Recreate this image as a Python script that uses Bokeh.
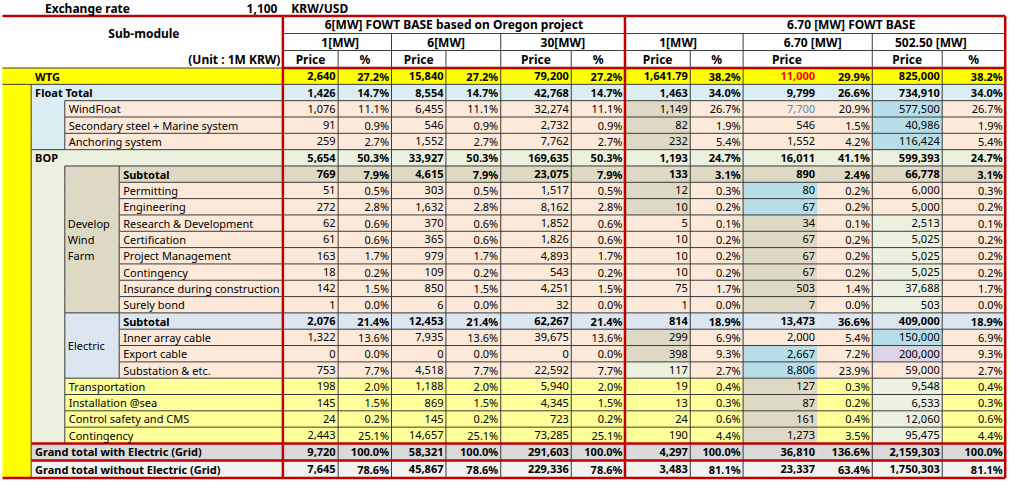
from bokeh.plotting import figure
from bokeh.models import Range1d, ColumnDataSource
from bokeh.embed import file_html
from bokeh.resources import INLINE
from bokeh.core.properties import value

# ---------------- data ----------------
exchange_label = "Exchange rate"
exchange_rate = 1100
exchange_unit = "KRW/USD"
corner_title = "Sub-module"
unit_label = "(Unit : 1M KRW)"

row_labels = ["WTG", "Float Total", "WindFloat", "Secondary steel + Marine system",
              "Anchoring system", "BOP", "Subtotal", "Permitting", "Engineering",
              "Research & Development", "Certification", "Project Management",
              "Contingency", "Insurance during construction", "Surely bond",
              "Subtotal", "Inner array cable", "Export cable", "Substation & etc.",
              "Transportation", "Installation @sea", "Control safety and CMS",
              "Contingency", "Grand total with Electric (Grid)",
              "Grand total without Electric (Grid)"]
develop_label = ["Develop", "Wind", "Farm"]
electric_label = "Electric"

group_titles = ["6[MW] FOWT BASE based on Oregon project", "6.70 [MW] FOWT BASE"]
size_titles = ["1[MW]", "6[MW]", "30[MW]", "1[MW]", "6.70 [MW]", "502.50 [MW]"]
sub_headers = ["Price", "%", "Price", "", "Price", "%",
               "Price", "%", "Price", "", "Price", "%"]

oregon_1mw_price = [2640, 1426, 1076, 91, 259, 5654, 769, 51, 272, 62, 61, 163, 18, 142, 1,
                    2076, 1322, 0, 753, 198, 145, 24, 2443, 9720, 7645]
oregon_1mw_pct = [27.2, 14.7, 11.1, 0.9, 2.7, 50.3, 7.9, 0.5, 2.8, 0.6, 0.6, 1.7, 0.2, 1.5, 0.0,
                  21.4, 13.6, 0.0, 7.7, 2.0, 1.5, 0.2, 25.1, 100.0, 78.6]
oregon_6mw_price = [15840, 8554, 6455, 546, 1552, 33927, 4615, 303, 1632, 370, 365, 979, 109, 850, 6,
                    12453, 7935, 0, 4518, 1188, 869, 145, 14657, 58321, 45867]
oregon_6mw_pct = [27.2, 14.7, 11.1, 0.9, 2.7, 50.3, 7.9, 0.5, 2.8, 0.6, 0.6, 1.7, 0.2, 1.5, 0.0,
                  21.4, 13.6, 0.0, 7.7, 2.0, 1.5, 0.2, 25.1, 100.0, 78.6]
oregon_30mw_price = [79200, 42768, 32274, 2732, 7762, 169635, 23075, 1517, 8162, 1852, 1826, 4893,
                     543, 4251, 32, 62267, 39675, 0, 22592, 5940, 4345, 723, 73285, 291603, 229336]
oregon_30mw_pct = [27.2, 14.7, 11.1, 0.9, 2.7, 50.3, 7.9, 0.5, 2.8, 0.6, 0.6, 1.7, 0.2, 1.5, 0.0,
                   21.4, 13.6, 0.0, 7.7, 2.0, 1.5, 0.2, 25.1, 100.0, 78.6]
fowt_1mw_price = [1641.79, 1463, 1149, 82, 232, 1193, 133, 12, 10, 5, 10, 10, 10, 75, 1,
                  814, 299, 398, 117, 19, 13, 24, 190, 4297, 3483]
fowt_1mw_pct = [38.2, 34.0, 26.7, 1.9, 5.4, 24.7, 3.1, 0.3, 0.2, 0.1, 0.2, 0.2, 0.2, 1.7, 0.0,
                18.9, 6.9, 9.3, 2.7, 0.4, 0.3, 0.6, 4.4, 100.0, 81.1]
fowt_670_price = [11000, 9799, 7700, 546, 1552, 16011, 890, 80, 67, 34, 67, 67, 67, 503, 7,
                  13473, 2000, 2667, 8806, 127, 87, 161, 1273, 36810, 23337]
fowt_670_pct = [29.9, 26.6, 20.9, 1.5, 4.2, 41.1, 2.4, 0.2, 0.2, 0.1, 0.2, 0.2, 0.2, 1.4, 0.0,
                36.6, 5.4, 7.2, 23.9, 0.3, 0.2, 0.4, 3.5, 136.6, 63.4]
fowt_50250_price = [825000, 734910, 577500, 40986, 116424, 599393, 66778, 6000, 5000, 2513, 5025,
                    5025, 5025, 37688, 503, 409000, 150000, 200000, 59000, 9548, 6533, 12060,
                    95475, 2159303, 1750303]
fowt_50250_pct = [38.2, 34.0, 26.7, 1.9, 5.4, 24.7, 3.1, 0.3, 0.2, 0.1, 0.2, 0.2, 0.2, 1.7, 0.0,
                  18.9, 6.9, 9.3, 2.7, 0.4, 0.3, 0.6, 4.4, 100.0, 81.1]

columns = [oregon_1mw_price, oregon_1mw_pct, oregon_6mw_price, oregon_6mw_pct,
           oregon_30mw_price, oregon_30mw_pct, fowt_1mw_price, fowt_1mw_pct,
           fowt_670_price, fowt_670_pct, fowt_50250_price, fowt_50250_pct]
is_pct = [False, True] * 6

# ---------------- layout / style ----------------
FONT = "Noto Sans"
FS = "11px"
FS_HEAD = "12px"
RED = "#C00000"
GRID = "#3a3a3a"
COL = {"wtg": "#FFFF00", "float": "#DAEEF3", "peach": "#FDE9D9", "bop": "#EBF1DE",
       "dsub": "#DDD9C4", "esub": "#DCE6F1", "yellow": "#FFFF99", "gt1": "#D9D9D9",
       "gt2": "#F2F2F2", "blue": "#B7DEE8", "tan": "#DDD9C4", "green": "#EBF1DE",
       "lav": "#DCD5E8"}
row_kind = ["wtg", "float", "peach", "peach", "peach", "bop", "dsub"] + ["peach"] * 8 + \
           ["esub"] + ["peach"] * 3 + ["yellow"] * 4 + ["gt1", "gt2"]
row_level = [1, 1, 2, 2, 2, 1] + [3] * 13 + [2] * 4 + [1, 1]
bold_rows = {0, 1, 5, 6, 15, 23, 24}
highlight = {}
for r in (2, 3, 4, 7, 8, 16, 17):
    highlight[(r, 6)] = "tan"
highlight[(18, 6)] = "green"
for r in (7, 8, 17, 18):
    highlight[(r, 8)] = "blue"
for r in list(range(9, 15)) + list(range(19, 23)):
    highlight[(r, 8)] = "tan"
for r in (2, 3, 4, 16):
    highlight[(r, 10)] = "blue"
highlight[(17, 10)] = "lav"
for r in list(range(9, 15)) + list(range(19, 23)):
    highlight[(r, 10)] = "green"
text_colors = {(0, 8): "#FF0000", (2, 8): "#5F86C2"}

X = [287.5, 343.3, 397.3, 452.3, 507.7, 579.0, 633.3, 699.3, 752.7, 828.0, 883.3, 954.0, 1017.7]
L0, L1, L2, L3 = 4.0, 33.0, 67.0, 122.0
indent = {1: L1, 2: L2, 3: L3}
HY = [17.0, 35.0, 52.5, 70.5]
heights = [16.8] * 23 + [17.5, 18.0]
Y = [HY[3]]
for h in heights:
    Y.append(Y[-1] + h)
NR = len(row_labels)


def owner(i, seg):
    if seg == 0:
        return 0 if i == 0 else "band"
    if seg == 1:
        if 2 <= i <= 4:
            return 1
        if 6 <= i <= 22:
            return 5
        return i
    if seg == 2:
        if 6 <= i <= 14:
            return "dev"
        if 15 <= i <= 18:
            return "elec"
        return i
    return i


seg_left = [L0, L1, L2, L3]

# ---------------- figure ----------------
p = figure(width=1007, height=480, x_range=Range1d(2, 1020), y_range=Range1d(495, 1),
           output_backend="svg", toolbar_location=None, min_border=0,
           x_axis_type=None, y_axis_type=None)
p.grid.visible = False
p.outline_line_color = None
p.background_fill_color = "white"
p.border_fill_color = "white"

q = dict(left=[], right=[], top=[], bottom=[], color=[])


def add_quad(l, r, t, b, c):
    q["left"].append(l); q["right"].append(r); q["top"].append(t)
    q["bottom"].append(b); q["color"].append(c)


# label area fills
add_quad(L0, L1, Y[0], Y[NR], COL["wtg"])
for i in range(NR):
    add_quad(L0 if i == 0 else indent[row_level[i]], X[0], Y[i], Y[i + 1], COL[row_kind[i]])
add_quad(L1, L2, Y[2], Y[5], COL["float"])
add_quad(L1, L2, Y[6], Y[23], COL["bop"])
add_quad(L2, L3, Y[6], Y[15], COL["dsub"])
add_quad(L2, L3, Y[15], Y[19], COL["esub"])
# data fills
for i in range(NR):
    for j in range(12):
        c = COL[highlight.get((i, j), row_kind[i])]
        add_quad(X[j], X[j + 1], Y[i], Y[i + 1], c)
p.quad(left="left", right="right", top="top", bottom="bottom", fill_color="color",
       line_color=None, source=ColumnDataSource(q))

# grid lines
dk = dict(x0=[], y0=[], x1=[], y1=[])
rd = dict(x0=[], y0=[], x1=[], y1=[])


def seg(d, x0, y0, x1, y1):
    d["x0"].append(x0); d["y0"].append(y0); d["x1"].append(x1); d["y1"].append(y1)


seg(dk, L0, Y[0], X[0], Y[0])
for k in range(1, 23):
    start = X[0]
    for s in range(4):
        if owner(k - 1, s) != owner(k, s):
            start = seg_left[s]
            break
    seg(dk, start, Y[k], X[-1], Y[k])
for i in range(NR):
    for s in range(3):
        if owner(i, s) != owner(i, s + 1):
            seg(dk, seg_left[s + 1], Y[i], seg_left[s + 1], Y[i + 1])
seg(dk, X[0], HY[1], X[-1], HY[1])
seg(dk, X[0], HY[2], X[-1], HY[2])
for j in (2, 4, 8, 10):
    seg(dk, X[j], HY[1], X[j], HY[2])
for j in (1, 2, 3, 4, 5, 7, 8, 10, 11):
    seg(dk, X[j], HY[2], X[j], Y[NR])

seg(rd, L0, HY[0], X[-1], HY[0])
seg(rd, X[0], HY[3], X[-1], HY[3])
seg(rd, L1, Y[23], X[-1], Y[23])
seg(rd, L1, Y[24], X[-1], Y[24])
seg(rd, L0, Y[25], X[-1], Y[25])
for j in (0, 6, 12):
    seg(rd, X[j], HY[0], X[j], Y[NR])
p.segment(x0="x0", y0="y0", x1="x1", y1="y1", line_color=GRID, line_width=1,
          source=ColumnDataSource(dk))
p.segment(x0="x0", y0="y0", x1="x1", y1="y1", line_color=RED, line_width=2.5,
          source=ColumnDataSource(rd))

# texts
t = dict(x=[], y=[], text=[], align=[], style=[], color=[], size=[])


def add_text(x, y, s, align="left", style="normal", color="#000000", size=FS):
    t["x"].append(x); t["y"].append(y); t["text"].append(s); t["align"].append(align)
    t["style"].append(style); t["color"].append(color); t["size"].append(size)


def fmt(v, pct):
    if pct:
        return f"{v:.1f}%"
    if v != int(v):
        return f"{v:,.2f}"
    return f"{int(v):,}"


add_text(47, 9, exchange_label, style="bold", size=FS_HEAD)
add_text(282, 9, f"{exchange_rate:,}", align="right", style="bold", size=FS_HEAD)
add_text(296, 9, exchange_unit, style="bold", size=FS_HEAD)
add_text(147, (HY[0] + HY[2]) / 2, corner_title, align="center", style="bold", size=FS_HEAD)
add_text(285, (HY[2] + HY[3]) / 2, unit_label, align="right", style="bold", size=FS_HEAD)
title_cx = [(X[0] + X[6]) / 2, 862]
for g in range(2):
    add_text(title_cx[g], (HY[0] + HY[1]) / 2, group_titles[g], align="center", style="bold",
             size=FS_HEAD)
size_cx = [(X[0] + X[2]) / 2 + 3, (X[2] + X[4]) / 2, (X[4] + X[6]) / 2,
           (X[6] + X[8]) / 2 - 6, (X[8] + X[10]) / 2 + 5, (X[10] + X[12]) / 2 - 8]
for k in range(6):
    add_text(size_cx[k], (HY[1] + HY[2]) / 2, size_titles[k], align="center", style="bold",
             size=FS_HEAD)
for j in range(12):
    cx = (X[j] + X[j + 1]) / 2
    if j == 8:
        cx = 797
    add_text(cx, (HY[2] + HY[3]) / 2, sub_headers[j], align="center", style="bold",
             size=FS_HEAD)

for i in range(NR):
    yc = (Y[i] + Y[i + 1]) / 2
    st = "bold" if i in bold_rows else "normal"
    add_text(indent[row_level[i]] + 4, yc, row_labels[i], style=st)
    for j in range(12):
        add_text(X[j + 1] - 2.5, yc, fmt(columns[j][i], is_pct[j]), align="right", style=st,
                 color=text_colors.get((i, j), "#000000"))
dev_c = (Y[6] + Y[15]) / 2
for n, s in enumerate(develop_label):
    add_text(L2 + 3, dev_c + (n - 1) * 16.7, s)
add_text(L2 + 3, (Y[15] + Y[19]) / 2, electric_label)

p.text(x="x", y="y", text="text", text_align="align", text_font_style="style",
       text_color="color", text_font_size="size", text_baseline="middle",
       text_font=value(FONT), source=ColumnDataSource(t))

open("out.html", "w").write(file_html(p, INLINE))
